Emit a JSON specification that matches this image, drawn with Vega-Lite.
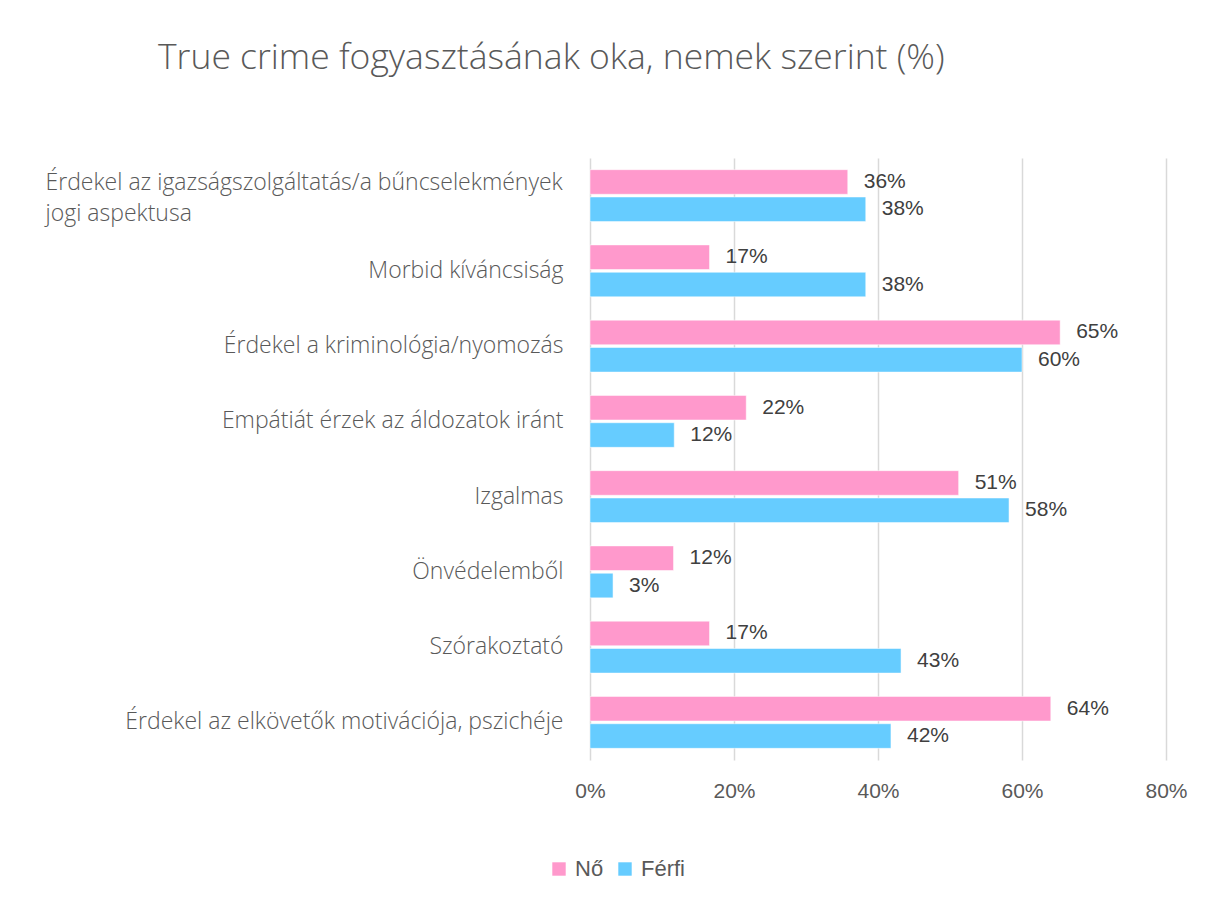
{
  "$schema": "https://vega.github.io/schema/vega-lite/v6.json",
  "autosize": "none",
  "width": 576,
  "height": 602,
  "padding": {"left": 590, "top": 158, "right": 40, "bottom": 139},
  "background": "#ffffff",
  "title": {
    "text": "True crime fogyasztásának oka, nemek szerint (%)",
    "anchor": "start",
    "frame": "group",
    "dx": -432,
    "offset": 54,
    "baseline": "alphabetic",
    "font": "Open Sans",
    "fontSize": 35.5,
    "fontWeight": 300,
    "color": "#595959"
  },
  "data": {
    "values": [
      {"ok": "Érdekel az igazságszolgáltatás/a bűncselekmények jogi aspektusa", "nem": "Nő", "arany": 0.358},
      {"ok": "Érdekel az igazságszolgáltatás/a bűncselekmények jogi aspektusa", "nem": "Férfi", "arany": 0.383},
      {"ok": "Morbid kíváncsiság", "nem": "Nő", "arany": 0.166},
      {"ok": "Morbid kíváncsiság", "nem": "Férfi", "arany": 0.383},
      {"ok": "Érdekel a kriminológia/nyomozás", "nem": "Nő", "arany": 0.653},
      {"ok": "Érdekel a kriminológia/nyomozás", "nem": "Férfi", "arany": 0.6},
      {"ok": "Empátiát érzek az áldozatok iránt", "nem": "Nő", "arany": 0.217},
      {"ok": "Empátiát érzek az áldozatok iránt", "nem": "Férfi", "arany": 0.117},
      {"ok": "Izgalmas", "nem": "Nő", "arany": 0.512},
      {"ok": "Izgalmas", "nem": "Férfi", "arany": 0.582},
      {"ok": "Önvédelemből", "nem": "Nő", "arany": 0.116},
      {"ok": "Önvédelemből", "nem": "Férfi", "arany": 0.032},
      {"ok": "Szórakoztató", "nem": "Nő", "arany": 0.166},
      {"ok": "Szórakoztató", "nem": "Férfi", "arany": 0.432},
      {"ok": "Érdekel az elkövetők motivációja, pszichéje", "nem": "Nő", "arany": 0.64},
      {"ok": "Érdekel az elkövetők motivációja, pszichéje", "nem": "Férfi", "arany": 0.418}
    ]
  },
  "encoding": {
    "y": {
      "field": "ok",
      "type": "nominal",
      "sort": null,
      "scale": {"paddingInner": 0.31, "paddingOuter": 0.155},
      "axis": {
        "title": null,
        "ticks": false,
        "domain": false,
        "labelFont": "Open Sans",
        "labelFontSize": 23,
        "labelFontWeight": 300,
        "labelColor": "#595959",
        "labelLimit": 700,
        "labelLineHeight": 31,
        "labelExpr": "datum.value == 'Érdekel az igazságszolgáltatás/a bűncselekmények jogi aspektusa' ? ['Érdekel az igazságszolgáltatás/a bűncselekmények', 'jogi aspektusa'] : datum.label",
        "labelAlign": {"condition": {"test": "datum.value == 'Érdekel az igazságszolgáltatás/a bűncselekmények jogi aspektusa'", "value": "left"}, "value": "right"},
        "labelPadding": {"condition": {"test": "datum.value == 'Érdekel az igazságszolgáltatás/a bűncselekmények jogi aspektusa'", "value": 545}, "value": 27},
        "labelOffset": {"condition": {"test": "datum.value == 'Érdekel az igazságszolgáltatás/a bűncselekmények jogi aspektusa'", "value": -13}, "value": 0}
      }
    },
    "yOffset": {
      "field": "nem",
      "type": "nominal",
      "sort": ["Nő", "Férfi"],
      "scale": {"paddingInner": 0.1}
    },
    "x": {
      "field": "arany",
      "type": "quantitative",
      "scale": {"domain": [0, 0.8]},
      "axis": {
        "title": null,
        "format": ".0%",
        "values": [0, 0.2, 0.4, 0.6, 0.8],
        "ticks": false,
        "domain": false,
        "grid": true,
        "gridColor": "#D9D9D9",
        "gridWidth": 1.5,
        "labelFont": "Liberation Sans",
        "labelFontSize": 21,
        "labelColor": "#595959",
        "labelPadding": 20,
        "labelFlush": false
      }
    }
  },
  "layer": [
    {
      "mark": {"type": "bar", "stroke": "#ffffff", "strokeWidth": 1, "strokeOpacity": 0.5},
      "encoding": {
        "color": {
          "field": "nem",
          "type": "nominal",
          "sort": ["Nő", "Férfi"],
          "scale": {"domain": ["Nő", "Férfi"], "range": ["#FF99CC", "#66CCFF"]},
          "legend": {
            "title": null,
            "orient": "none",
            "direction": "horizontal",
            "legendX": -42,
            "legendY": 700,
            "symbolType": "square",
            "symbolSize": 180,
            "symbolStrokeWidth": 0,
            "labelFont": "Liberation Sans",
            "labelFontSize": 22,
            "labelColor": "#595959",
            "labelOffset": 5,
            "columnPadding": 10
          }
        }
      }
    },
    {
      "mark": {
        "type": "text",
        "align": "left",
        "baseline": "middle",
        "dx": 16,
        "font": "Liberation Sans",
        "fontSize": 21,
        "color": "#404040"
      },
      "encoding": {
        "text": {"field": "arany", "type": "quantitative", "format": ".0%"}
      }
    }
  ],
  "config": {
    "view": {"stroke": null}
  }
}
